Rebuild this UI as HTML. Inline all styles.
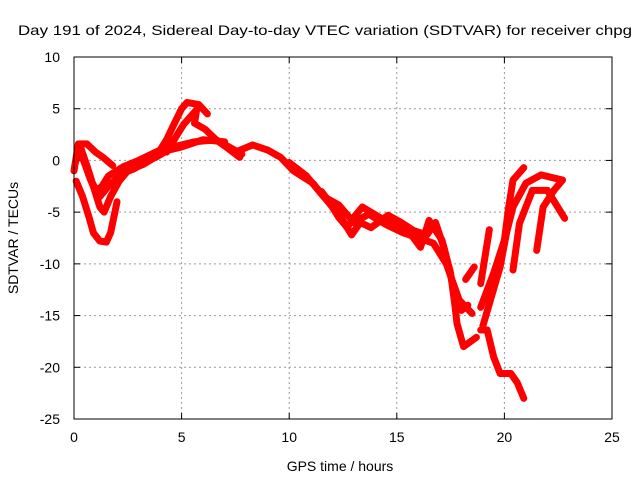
<!DOCTYPE html>
<html><head><meta charset="utf-8"><style>
body{margin:0;background:#fff;}
svg text{font-family:"Liberation Sans",sans-serif;font-size:14px;fill:#000;}
</style></head><body>
<svg id="chart" width="640" height="480" viewBox="0 0 640 480">
<text x="18" y="35" textLength="614" lengthAdjust="spacingAndGlyphs">Day 191 of 2024, Sidereal Day-to-day VTEC variation (SDTVAR) for receiver chpg</text>
<text x="340" y="471" text-anchor="middle">GPS time / hours</text>
<text x="18" y="238" text-anchor="middle" transform="rotate(-90 18 238)">SDTVAR / TECUs</text>
<g id="grid"></g><g id="ticks"></g><g id="series"></g>
<rect x="74" y="57" width="538" height="362" fill="none" stroke="#000" stroke-width="1"/>
</svg>
<script>
const xTicks=[0,5,10,15,20,25];
const yTicks=[10,5,0,-5,-10,-15,-20,-25];
const arcA=[[0.1,-2],[0.4,-3.5],[0.7,-5.5],[0.9,-7],[1.2,-7.8],[1.5,-7.9],[1.7,-7],[1.9,-5],[2.0,-4]];
const arcB=[[0,-1],[0.2,1.6],[0.6,1.6],[1.0,0.8],[1.35,0.3],[1.8,-0.5]];
const arcC=[[0.1,0],[0.3,1.3],[0.6,-0.5],[0.9,-2.5],[1.2,-4.5],[1.4,-5],[1.7,-3.5],[2.1,-2],[2.5,-1],[3.2,-0.4],[4,0.6]];
const arcD=[[0.4,0.5],[0.7,-1.5],[1.0,-3],[1.3,-2.5],[1.6,-1.5],[2.3,-0.6],[3,0],[3.8,0.5],[4.4,1]];
const arcD2=[[0.3,0.8],[0.8,-2],[1.2,-3.5],[1.6,-2.5],[2.2,-1.3],[2.8,-0.8],[3.5,0.1]];
const arcE=[[3,0],[4,1],[4.3,2],[4.6,3.3],[5.0,5],[5.25,5.6],[5.8,5.4],[6.2,4.5]];
const arcF=[[4.3,0.8],[4.8,2.5],[5.1,3.5],[5.7,4.9],[5.6,3.6],[6.1,3],[6.6,2],[7.2,1.1],[7.7,0.3]];
const arcG=[[3.8,0.3],[4.6,1.3],[5.6,1.8],[6.6,2],[7.2,1.3],[7.8,0.6]];
const arcG2=[[4.2,0.9],[5,1.3],[6,2],[7,1.8]];
const arcH=[[7.5,0.8],[8.3,1.5],[9,1],[9.6,0.3],[10.2,-1],[11.1,-2.2],[12,-4.5],[12.3,-5.5],[12.7,-6.5],[13.0,-5.5],[13.4,-4.5],[14.2,-5.5],[15,-6.4],[15.6,-7],[16.1,-8.4],[16.5,-5.8],[17.1,-7.7],[17.5,-10.9],[17.7,-14],[17.8,-15.8],[18.1,-18],[18.7,-17.1]];
const arcI=[[10,-0.2],[10.8,-1.5],[11.6,-3.5],[12.3,-4.3],[13,-6],[13.7,-5.2],[14.5,-6.2],[15.3,-7],[16,-7.5],[16.7,-8],[17.3,-10],[17.9,-13.5],[18.5,-14.8]];
const arcI2=[[11.5,-3],[12.4,-5.5],[12.9,-7.2],[13.3,-6],[13.8,-6.5],[14.6,-5.3],[15.2,-6],[15.8,-6.8],[16.4,-7.2],[16.8,-6],[17.2,-8.5],[17.6,-12],[18,-14.5],[18.3,-14]];
const arcJ=[[18.2,-11.5],[18.6,-10.3]];
const arcK=[[18.9,-16.4],[19.2,-16.4],[19.5,-19],[19.8,-20.6],[20.3,-20.6],[20.6,-21.5],[20.9,-23]];
const arcL=[[18.9,-14.2],[19.5,-10.9],[20,-7.7],[20.2,-4.5],[20.4,-1.9],[20.9,-0.7]];
const arcM=[[18.9,-11.9],[19.3,-6.7]];
const arcN=[[19,-16],[19.8,-10.3],[20.1,-7],[20.4,-4.5],[21,-2.2],[21.7,-1.4],[22.7,-1.9]];
const arcO=[[20.4,-10.6],[20.7,-6.1],[21.3,-2.9],[22,-2.9],[22.8,-5.6]];
const arcP=[[21.5,-8.7],[21.8,-4.5],[22.3,-2.9],[22.7,-1.9]];
const allArcs=[arcA,arcB,arcC,arcD,arcD2,arcE,arcF,arcG,arcG2,arcH,arcI,arcI2,arcJ,arcK,arcL,arcM,arcN,arcO,arcP];

const X0=74,X1=612,Y0=57,Y1=419;
const xs=v=>X0+(v-0)/25*(X1-X0);
const ys=v=>Y0+(10-v)/35*(Y1-Y0);
const NS="http://www.w3.org/2000/svg";
const grid=document.getElementById('grid'),ticks=document.getElementById('ticks'),ser=document.getElementById('series');
function mk(t,a,p){const e=document.createElementNS(NS,t);for(const k in a)e.setAttribute(k,a[k]);p.appendChild(e);return e;}
xTicks.forEach(v=>{const x=xs(v);
 if(v>0&&v<25){const g=mk('line',{x1:x,x2:x,y1:Y0,y2:Y1,stroke:'#999','stroke-dasharray':'2,3'},grid);
 
 }
 const t=mk('text',{x:x,y:Y1+23,'text-anchor':'middle'},ticks);t.textContent=v;
 
 
 mk('line',{x1:x,x2:x,y1:Y1,y2:Y1-6,stroke:'#000'},ticks);mk('line',{x1:x,x2:x,y1:Y0,y2:Y0+6,stroke:'#000'},ticks);
});
yTicks.forEach(v=>{const y=ys(v);
 if(v<10&&v>-25){const g=mk('line',{x1:X0,x2:X1,y1:y,y2:y,stroke:'#999','stroke-dasharray':'2,3'},grid);
 
 }
 const t=mk('text',{x:X0-14,y:y+5,'text-anchor':'end'},ticks);t.textContent=v;
 
 
 mk('line',{x1:X0,x2:X0+6,y1:y,y2:y,stroke:'#000'},ticks);mk('line',{x1:X1,x2:X1-6,y1:y,y2:y,stroke:'#000'},ticks);
});
allArcs.forEach(arc=>{
 const p=mk('polyline',{points:arc.map(d=>xs(d[0])+','+ys(d[1])).join(' '),fill:'none',stroke:'#f00','stroke-width':7,'stroke-linejoin':'round','stroke-linecap':'round'},ser);
 
 
});
</script>
</body></html>
